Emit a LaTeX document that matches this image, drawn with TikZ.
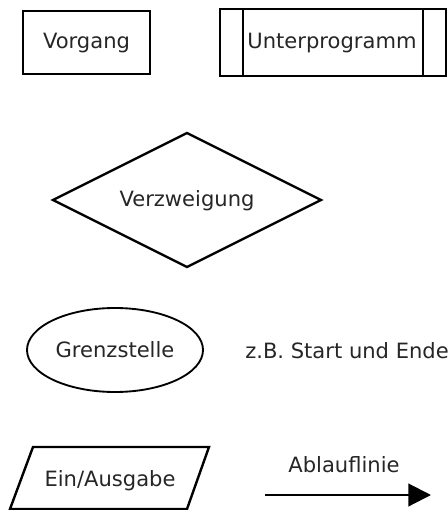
\documentclass[tikz,border=0pt]{standalone}
\usepackage{fontspec}
\setmainfont{DejaVu Sans}
\usetikzlibrary{arrows.meta}
\begin{document}
\begin{tikzpicture}[x=0.75pt,y=-0.75pt,
  shapeline/.style={draw=black,line width=1.8pt,line join=miter},
  lbl/.style={inner sep=0pt,font=\fontsize{15.8}{19}\selectfont,text=black!85},
  flowarrow/.style={draw=black,line width=1.6pt,-{Triangle[length=17pt,width=17pt]}}]
\useasboundingbox (0,0) rectangle (447,510);

% Vorgang (process box)
\draw[shapeline] (23,11) rectangle (150,74);
\node[lbl] (vorgang) at (86.5,43) {Vorgang};

% Unterprogramm (subroutine box with side bars)
\draw[shapeline] (220,9) rectangle (446,76);
\draw[shapeline] (243,9) -- (243,76);
\draw[shapeline] (423,9) -- (423,76);
\node[lbl] (unterprogramm) at (332,43) {Unterprogramm};

% Verzweigung (decision)
\draw[shapeline] (53,200) -- (187,133) -- (321,200) -- (187,267) -- cycle;
\node[lbl] (verzweigung) at (187,201) {Verzweigung};

% Grenzstelle (terminal)
\draw[draw=black,line width=1.4pt] (115,350) ellipse [x radius=88,y radius=42];
\node[lbl] (grenzstelle) at (115,350) {Grenzstelle};
\node[lbl,anchor=west] (startende) at (245,351) {z.B. Start und Ende};

% Ein/Ausgabe (input/output)
\draw[shapeline] (33,447) -- (209,447) -- (187,509) -- (10,509) -- cycle;
\node[lbl] (einausgabe) at (110,481) {Ein/Ausgabe};

% Ablauflinie (flow line)
\node[lbl] (ablauf) at (344,465) {Ablauflinie};
\coordinate (pfeilA) at (265,495);
\coordinate (pfeilB) at (431,495);
\draw[flowarrow] (pfeilA) -- (pfeilB);
\end{tikzpicture}
\end{document}
